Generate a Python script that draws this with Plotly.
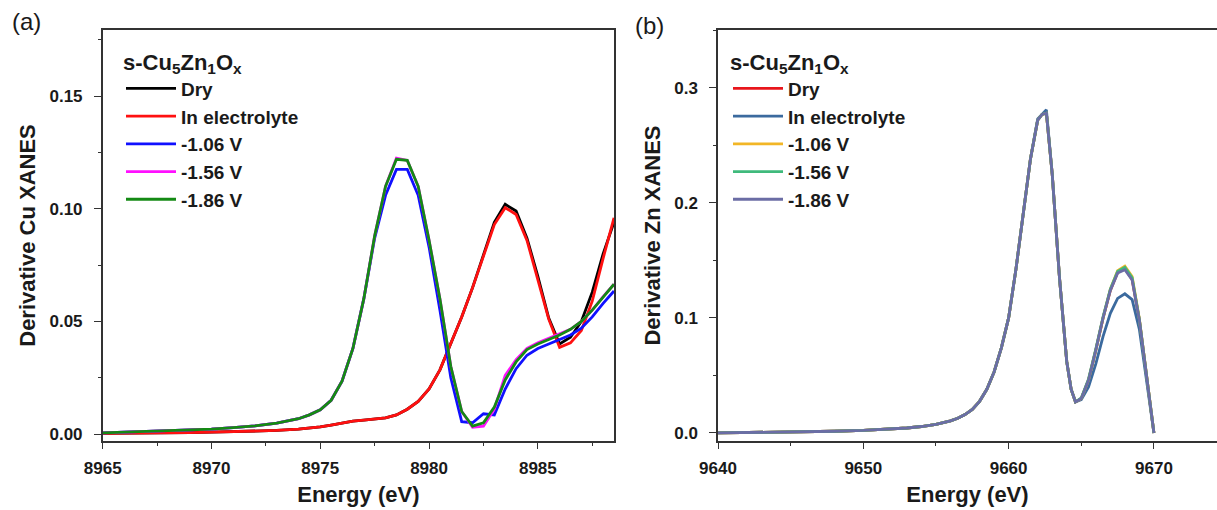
import plotly.graph_objects as go

# ---------------- Panel (a): Cu K-edge derivative ----------------
energy_cu = [8965, 8966, 8967, 8968, 8969, 8970, 8971, 8972, 8973, 8974, 8974.5,
             8975, 8975.5, 8976, 8976.5, 8977, 8977.5, 8978, 8978.5, 8979, 8979.5,
             8980, 8980.5, 8981, 8981.5, 8982, 8982.5, 8983, 8983.5, 8984, 8984.5,
             8985, 8985.5, 8986, 8986.5, 8987, 8987.5, 8988, 8988.5]

cu_dry = [0.0003, 0.0003, 0.0004, 0.0005, 0.0006, 0.0008, 0.0010, 0.0013, 0.0016, 0.0022, 0.0026,
          0.0032, 0.0040, 0.0050, 0.0057, 0.0062, 0.0066, 0.0072, 0.0085, 0.0110, 0.0145,
          0.0200, 0.0285, 0.0400, 0.0520, 0.0650, 0.0795, 0.0940, 0.1020, 0.0990, 0.0870,
          0.0700, 0.0515, 0.0400, 0.0430, 0.0500, 0.0630, 0.0800, 0.0940]
cu_electrolyte = [0.0003, 0.0003, 0.0004, 0.0005, 0.0006, 0.0008, 0.0010, 0.0013, 0.0016, 0.0022, 0.0026,
                  0.0032, 0.0040, 0.0050, 0.0057, 0.0062, 0.0066, 0.0072, 0.0085, 0.0110, 0.0145,
                  0.0200, 0.0285, 0.0400, 0.0520, 0.0650, 0.0790, 0.0930, 0.1005, 0.0975, 0.0860,
                  0.0690, 0.0510, 0.0385, 0.0405, 0.0460, 0.0590, 0.0780, 0.0960]
cu_m106 = [0.0005, 0.0008, 0.0010, 0.0013, 0.0017, 0.0022, 0.0028, 0.0036, 0.0048, 0.0068, 0.0085,
           0.0108, 0.0150, 0.0235, 0.0380, 0.0600, 0.0870, 0.1060, 0.1175, 0.1175, 0.1060,
           0.0830, 0.0550, 0.0250, 0.0055, 0.0050, 0.0090, 0.0085, 0.0200, 0.0290, 0.0350,
           0.0380, 0.0400, 0.0420, 0.0440, 0.0470, 0.0520, 0.0580, 0.0635]
cu_m156 = [0.0005, 0.0008, 0.0010, 0.0013, 0.0017, 0.0022, 0.0028, 0.0036, 0.0048, 0.0068, 0.0085,
           0.0108, 0.0150, 0.0235, 0.0380, 0.0600, 0.0880, 0.1100, 0.1225, 0.1215, 0.1100,
           0.0860, 0.0600, 0.0300, 0.0100, 0.0030, 0.0035, 0.0110, 0.0260, 0.0330, 0.0380,
           0.0405, 0.0425, 0.0445, 0.0465, 0.0500, 0.0550, 0.0610, 0.0665]
cu_m186 = [0.0005, 0.0008, 0.0010, 0.0013, 0.0017, 0.0022, 0.0028, 0.0036, 0.0048, 0.0068, 0.0085,
           0.0108, 0.0150, 0.0235, 0.0380, 0.0600, 0.0880, 0.1100, 0.1220, 0.1215, 0.1100,
           0.0860, 0.0600, 0.0300, 0.0100, 0.0035, 0.0050, 0.0120, 0.0240, 0.0320, 0.0375,
           0.0400, 0.0420, 0.0440, 0.0465, 0.0500, 0.0550, 0.0610, 0.0665]

# ---------------- Panel (b): Zn K-edge derivative ----------------
energy_zn = [9640, 9642, 9644, 9646, 9648, 9650, 9651, 9652, 9653, 9654, 9655, 9656,
             9656.5, 9657, 9657.5, 9658, 9658.5, 9659, 9659.5, 9660, 9660.5, 9661,
             9661.5, 9662, 9662.3, 9662.6, 9663, 9663.5, 9664, 9664.3, 9664.6, 9665,
             9665.5, 9666, 9666.5, 9667, 9667.5, 9668, 9668.5, 9669, 9669.5, 9670]

zn_dry = [0.0000, 0.0003, 0.0006, 0.0010, 0.0015, 0.0022, 0.0027, 0.0034, 0.0043, 0.0056, 0.0075, 0.0105,
          0.0128, 0.0160, 0.0205, 0.0275, 0.0380, 0.0530, 0.0740, 0.1000, 0.1420, 0.1900,
          0.2380, 0.2720, 0.2770, 0.2780, 0.2250, 0.1350, 0.0620, 0.0380, 0.0270, 0.0300,
          0.0460, 0.0720, 0.1000, 0.1240, 0.1395, 0.1430, 0.1335, 0.0980, 0.0480, 0.0000]
zn_electrolyte = [0.0000, 0.0003, 0.0006, 0.0010, 0.0015, 0.0022, 0.0027, 0.0034, 0.0043, 0.0056, 0.0075, 0.0105,
                  0.0128, 0.0160, 0.0205, 0.0275, 0.0380, 0.0530, 0.0740, 0.1000, 0.1420, 0.1900,
                  0.2380, 0.2730, 0.2770, 0.2810, 0.2250, 0.1350, 0.0620, 0.0380, 0.0270, 0.0290,
                  0.0400, 0.0600, 0.0840, 0.1040, 0.1170, 0.1210, 0.1160, 0.0900, 0.0450, 0.0000]
zn_m106 = [0.0000, 0.0003, 0.0006, 0.0010, 0.0015, 0.0022, 0.0027, 0.0034, 0.0043, 0.0056, 0.0075, 0.0105,
           0.0128, 0.0160, 0.0205, 0.0275, 0.0380, 0.0530, 0.0740, 0.1000, 0.1420, 0.1900,
           0.2380, 0.2720, 0.2770, 0.2780, 0.2250, 0.1350, 0.0620, 0.0380, 0.0270, 0.0300,
           0.0460, 0.0720, 0.1000, 0.1250, 0.1410, 0.1450, 0.1360, 0.0990, 0.0480, 0.0000]
zn_m156 = [0.0000, 0.0003, 0.0006, 0.0010, 0.0015, 0.0022, 0.0027, 0.0034, 0.0043, 0.0056, 0.0075, 0.0105,
           0.0128, 0.0160, 0.0205, 0.0275, 0.0380, 0.0530, 0.0740, 0.1000, 0.1420, 0.1900,
           0.2380, 0.2720, 0.2770, 0.2780, 0.2250, 0.1350, 0.0620, 0.0380, 0.0270, 0.0305,
           0.0470, 0.0730, 0.1010, 0.1250, 0.1405, 0.1440, 0.1350, 0.0985, 0.0480, 0.0000]
zn_m186 = [0.0000, 0.0003, 0.0006, 0.0010, 0.0015, 0.0022, 0.0027, 0.0034, 0.0043, 0.0056, 0.0075, 0.0105,
           0.0128, 0.0160, 0.0205, 0.0275, 0.0380, 0.0530, 0.0740, 0.1000, 0.1420, 0.1900,
           0.2380, 0.2720, 0.2770, 0.2780, 0.2250, 0.1350, 0.0620, 0.0380, 0.0270, 0.0300,
           0.0460, 0.0720, 0.1000, 0.1240, 0.1390, 0.1420, 0.1330, 0.0980, 0.0480, 0.0000]

series_labels = ["Dry", "In electrolyte", "-1.06 V", "-1.56 V", "-1.86 V"]
cu_series = [cu_dry, cu_electrolyte, cu_m106, cu_m156, cu_m186]
zn_series = [zn_dry, zn_electrolyte, zn_m106, zn_m156, zn_m186]
cu_colors = ["#000000", "#ff1010", "#1010ff", "#ff10ff", "#148a14"]
zn_colors = ["#e8161c", "#3b6a9e", "#f2b626", "#3fba7c", "#6b6da5"]

FONT = "Liberation Sans, Arial, sans-serif"
INK = "#1a1a1a"

fig = go.Figure()
for name, ys, col in zip(series_labels, cu_series, cu_colors):
    fig.add_trace(go.Scatter(x=energy_cu, y=ys, mode="lines", name="<b>" + name + "</b>",
                             line=dict(color=col, width=2.8),
                             xaxis="x", yaxis="y", legend="legend",
                             legendgroup="a" + name))
for name, ys, col in zip(series_labels, zn_series, zn_colors):
    fig.add_trace(go.Scatter(x=energy_zn, y=ys, mode="lines", name="<b>" + name + "</b>",
                             line=dict(color=col, width=2.8),
                             xaxis="x2", yaxis="y2", legend="legend2",
                             legendgroup="b" + name))

W, H = 1217, 510
top_px, bot_px = 30, 441
ydom = [(H - bot_px) / H, (H - top_px) / H]

axis_common = dict(
    automargin=False,
    showline=True, linecolor="#333333", linewidth=1.5,
    ticks="outside", tickwidth=1.3, tickcolor="#333333",
    showgrid=False, zeroline=False,
    tickfont=dict(family=FONT, size=17, color=INK, weight="bold"),
    title_font=dict(family=FONT, size=22, color=INK, weight="bold"),
)

legend_common = dict(
    bgcolor="rgba(0,0,0,0)", borderwidth=0,
    font=dict(family=FONT, size=19, color=INK),
    title=dict(text="<b>s-Cu<sub>5</sub>Zn<sub>1</sub>O<sub>x</sub></b>",
               font=dict(family=FONT, size=22, color=INK),
               side="top"),
    tracegroupgap=0, traceorder="grouped",
    xanchor="left", yanchor="top", itemwidth=50,
)

minor_style = dict(ticks="outside", ticklen=3, tickcolor="#333333", tickwidth=1.2)

fig.update_layout(
    template="plotly",
    width=W, height=H,
    margin=dict(l=0, r=0, t=0, b=0, autoexpand=False),
    paper_bgcolor="white", plot_bgcolor="white",
    showlegend=True,
    xaxis=dict(domain=[102.7 / W, 614 / W], range=[8965, 8988.5], anchor="y",
               dtick=5, tick0=8965, mirror=True, ticklen=6, ticklabelstandoff=5,
               minor=dict(dtick=2.5, **minor_style),
               title=dict(text="Energy (eV)", standoff=9), **axis_common),
    yaxis=dict(domain=ydom, range=[-0.0031, 0.1794], anchor="x",
               dtick=0.05, tick0=0, tickformat=".2f", mirror=True, ticklen=7,
               minor=dict(dtick=0.025, **minor_style),
               ticklabelstandoff=8,
               title=dict(text="Derivative Cu XANES", standoff=8), **axis_common),
    xaxis2=dict(domain=[718 / W, 1.0], range=[9640, 9674.34], anchor="y2",
                dtick=10, tick0=9640, mirror=True, ticklen=6, ticklabelstandoff=5,
                minor=dict(dtick=5, **minor_style),
                title=dict(text="Energy (eV)", standoff=9), **axis_common),
    yaxis2=dict(domain=ydom, range=[-0.007, 0.3504], anchor="x2",
                dtick=0.1, tick0=0, tickformat=".1f", mirror=False, ticklen=7,
                minor=dict(dtick=0.05, **minor_style),
                ticklabelstandoff=8,
                title=dict(text="Derivative Zn XANES", standoff=8), **axis_common),
    legend=dict(x=121 / W, y=(H - 41) / H, **legend_common),
    legend2=dict(x=728 / W, y=(H - 41) / H, **legend_common),
    annotations=[
        dict(text="(a)", x=26 / W, y=(H - 22) / H, xref="paper", yref="paper",
             showarrow=False, xanchor="center", yanchor="middle",
             font=dict(family=FONT, size=24, color=INK)),
        dict(text="(b)", x=649 / W, y=(H - 25) / H, xref="paper", yref="paper",
             showarrow=False, xanchor="center", yanchor="middle",
             font=dict(family=FONT, size=24, color=INK)),
    ],
)

fig.write_html("out.html")
